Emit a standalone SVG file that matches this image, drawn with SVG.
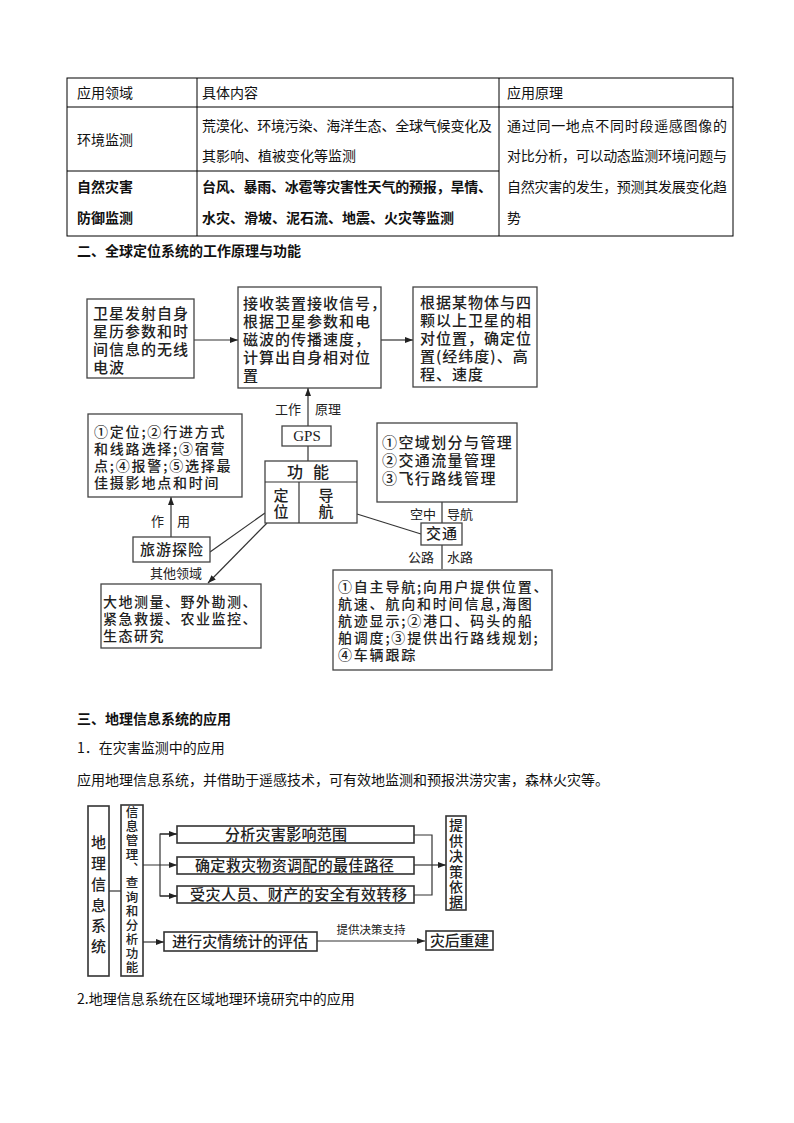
<svg xmlns="http://www.w3.org/2000/svg" width="794" height="1123" viewBox="0 0 794 1123">
<style>
.t{font-family:"Noto Sans CJK SC","Liberation Sans",sans-serif;font-size:14px;fill:#111}
.b{font-weight:bold}
.tbl{fill:none;stroke:#000;stroke-width:1}
.box{fill:#fff;stroke:#444;stroke-width:1.3}
.gbox{fill:#fff;stroke:#333;stroke-width:1.6}
.d{font-family:"Noto Sans CJK SC","Liberation Sans",sans-serif;font-size:15px;letter-spacing:1px;fill:#222;font-weight:500}
.dn{font-family:"Noto Sans CJK SC","Liberation Sans",sans-serif;font-size:14px;letter-spacing:1.8px;fill:#222;font-weight:500}
.s{font-family:"Noto Sans CJK SC","Liberation Sans",sans-serif;font-size:13px;fill:#222}
.g{font-family:"Noto Sans CJK SC","Liberation Sans",sans-serif;font-size:15px;fill:#222;font-weight:500}
.v{writing-mode:vertical-rl}
.ln{fill:none;stroke:#333;stroke-width:1.2}
</style>
<defs>
<marker id="ar" viewBox="0 0 8 6" refX="8" refY="3" markerWidth="8" markerHeight="6" markerUnits="userSpaceOnUse" orient="auto"><path d="M0,0L8,3L0,6z" fill="#222"/></marker>
</defs>
<rect width="794" height="1123" fill="#fff"/>

<g id="table">
<rect class="tbl" x="67" y="78" width="666" height="158"/>
<line class="tbl" x1="67" y1="107" x2="733" y2="107"/>
<line class="tbl" x1="67" y1="171" x2="499" y2="171"/>
<line class="tbl" x1="197" y1="78" x2="197" y2="236"/>
<line class="tbl" x1="499" y1="78" x2="499" y2="236"/>
<text class="t" x="77" y="98">应用领域</text>
<text class="t" x="202" y="98">具体内容</text>
<text class="t" x="507" y="98">应用原理</text>
<text class="t" x="77" y="145">环境监测</text>
<text class="t" x="202" y="131" textLength="290" lengthAdjust="spacing">荒漠化、环境污染、海洋生态、全球气候变化及</text>
<text class="t" x="202" y="161">其影响、植被变化等监测</text>
<text class="t b" x="77" y="192">自然灾害</text>
<text class="t b" x="77" y="223">防御监测</text>
<text class="t b" x="202" y="192" textLength="290" lengthAdjust="spacing">台风、暴雨、冰雹等灾害性天气的预报，旱情、</text>
<text class="t b" x="202" y="223">水灾、滑坡、泥石流、地震、火灾等监测</text>
<text class="t" x="507" y="131" textLength="220" lengthAdjust="spacing">通过同一地点不同时段遥感图像的</text>
<text class="t" x="507" y="161" textLength="220" lengthAdjust="spacing">对比分析，可以动态监测环境问题与</text>
<text class="t" x="507" y="192" textLength="220" lengthAdjust="spacing">自然灾害的发生，预测其发展变化趋</text>
<text class="t" x="507" y="223">势</text>
</g>

<text class="t b" x="77" y="256">二、全球定位系统的工作原理与功能</text>

<g id="gps-connectors">
<line class="ln" x1="194" y1="340" x2="238" y2="340" marker-end="url(#ar)"/>
<line class="ln" x1="381" y1="340" x2="413" y2="340" marker-end="url(#ar)"/>
<line class="ln" x1="308" y1="426" x2="308" y2="388" marker-end="url(#ar)"/>
<line class="ln" x1="308" y1="446" x2="308" y2="461"/>
<line class="ln" x1="171" y1="537" x2="171" y2="497" marker-end="url(#ar)"/>
<line class="ln" x1="265" y1="513" x2="210" y2="552"/>
<line class="ln" x1="267" y1="523" x2="208" y2="583" marker-end="url(#ar)"/>
<line class="ln" x1="357" y1="514" x2="421" y2="534"/>
<line class="ln" x1="442" y1="502" x2="442" y2="523"/>
<line class="ln" x1="442" y1="545" x2="442" y2="569"/>
<text class="s" x="275" y="414">工作</text>
<text class="s" x="315" y="414">原理</text>
<text class="s" x="151" y="526">作</text>
<text class="s" x="177" y="526">用</text>
<text class="s" x="150" y="578">其他领域</text>
<text class="s" x="410" y="519">空中</text>
<text class="s" x="447" y="519">导航</text>
<text class="s" x="408" y="562">公路</text>
<text class="s" x="447" y="562">水路</text>
</g>

<g id="nodeA">
<rect class="box" x="87" y="299" width="107" height="79"/>
<text class="d" x="93" y="319">卫星发射自身</text>
<text class="d" x="93" y="337">星历参数和时</text>
<text class="d" x="93" y="355">间信息的无线</text>
<text class="d" x="93" y="373">电波</text>
</g>
<g id="nodeB">
<rect class="box" x="238" y="287" width="143" height="101"/>
<text class="d" x="243" y="309">接收装置接收信号，</text>
<text class="d" x="243" y="327">根据卫星参数和电</text>
<text class="d" x="243" y="345">磁波的传播速度，</text>
<text class="d" x="243" y="363">计算出自身相对位</text>
<text class="d" x="243" y="381">置</text>
</g>
<g id="nodeC">
<rect class="box" x="413" y="287" width="124" height="100"/>
<text class="d" x="420" y="308">根据某物体与四</text>
<text class="d" x="420" y="326">颗以上卫星的相</text>
<text class="d" x="420" y="344">对位置，确定位</text>
<text class="d" x="420" y="362">置(经纬度)、高</text>
<text class="d" x="420" y="380">程、速度</text>
</g>
<g id="nodeGPS">
<rect class="box" x="282" y="426" width="49" height="20"/>
<text x="307" y="441" text-anchor="middle" font-family="Liberation Serif,serif" font-size="15" fill="#222">GPS</text>
</g>
<g id="nodeFunc">
<rect class="box" x="265" y="461" width="92" height="62"/>
<line class="ln" x1="265" y1="482" x2="357" y2="482"/>
<line class="ln" x1="299" y1="482" x2="299" y2="523"/>
<text class="g" x="287" y="478" style="font-size:16px;letter-spacing:10px">功能</text>
<text class="g v" x="281" y="488" style="letter-spacing:1px">定位</text>
<text class="g v" x="326" y="488" style="letter-spacing:1px">导航</text>
</g>
<g id="nodeD">
<rect class="box" x="88" y="414" width="154" height="83"/>
<text class="dn" x="94" y="437">①定位;②行进方式</text>
<text class="dn" x="94" y="454">和线路选择;③宿营</text>
<text class="dn" x="94" y="471">点;④报警;⑤选择最</text>
<text class="dn" x="94" y="488">佳摄影地点和时间</text>
</g>
<g id="nodeTravel">
<rect class="box" x="133" y="537" width="77" height="25"/>
<text class="d" x="172" y="555" text-anchor="middle">旅游探险</text>
</g>
<g id="nodeE">
<rect class="box" x="101" y="584" width="160" height="64"/>
<text class="dn" x="103" y="607" style="letter-spacing:1.5px">大地测量、野外勘测、</text>
<text class="dn" x="103" y="624" style="letter-spacing:1.5px">紧急救援、农业监控、</text>
<text class="dn" x="103" y="641" style="letter-spacing:1.5px">生态研究</text>
</g>
<g id="nodeF">
<rect class="box" x="377" y="423" width="140" height="79"/>
<text class="d" x="382" y="448" style="letter-spacing:1.4px">①空域划分与管理</text>
<text class="d" x="382" y="466" style="letter-spacing:1.4px">②交通流量管理</text>
<text class="d" x="382" y="484" style="letter-spacing:1.4px">③飞行路线管理</text>
</g>
<g id="nodeTraffic">
<rect class="box" x="421" y="523" width="41" height="22"/>
<text class="d" x="442" y="539" text-anchor="middle">交通</text>
</g>
<g id="nodeG">
<rect class="box" x="333" y="570" width="219" height="100"/>
<text class="dn" x="338" y="592">①自主导航;向用户提供位置、</text>
<text class="dn" x="338" y="609">航速、航向和时间信息,海图</text>
<text class="dn" x="338" y="626">航迹显示;②港口、码头的船</text>
<text class="dn" x="338" y="643">舶调度;③提供出行路线规划;</text>
<text class="dn" x="338" y="660">④车辆跟踪</text>
</g>

<text class="t b" x="77" y="724">三、地理信息系统的应用</text>
<text class="t" x="77" y="753">1．在灾害监测中的应用</text>
<text class="t" x="77" y="785">应用地理信息系统，并借助于遥感技术，可有效地监测和预报洪涝灾害，森林火灾等。</text>

<g id="gis-connectors">
<line class="ln" x1="109" y1="891" x2="121" y2="891"/>
<polyline class="ln" points="177,834 160,834 160,896 177,896"/>
<line class="ln" x1="160" y1="834" x2="177" y2="834" marker-end="url(#ar)"/>
<line class="ln" x1="160" y1="896" x2="177" y2="896" marker-end="url(#ar)"/>
<line class="ln" x1="143" y1="865" x2="177" y2="865" marker-end="url(#ar)"/>
<polyline class="ln" points="414,835 432,835 432,895 414,895"/>
<line class="ln" x1="414" y1="865" x2="446" y2="865" marker-end="url(#ar)"/>
<line class="ln" x1="143" y1="942" x2="164" y2="942" marker-end="url(#ar)"/>
<line class="ln" x1="317" y1="941" x2="425" y2="941" marker-end="url(#ar)"/>
<text class="s" x="371" y="934" text-anchor="middle" style="font-size:11.5px">提供决策支持</text>
</g>

<g id="gisSystem">
<rect class="gbox" x="88" y="806" width="21" height="170"/>
<text class="g v" x="98.5" y="835" style="letter-spacing:5.8px">地理信息系统</text>
</g>
<g id="gisFunc">
<rect class="gbox" x="121" y="805" width="22" height="171"/>
<text class="g v" x="132" y="806" style="font-size:12.5px;letter-spacing:1.6px">信息管理、查询和分析功能</text>
</g>
<g id="gisA">
<rect class="gbox" x="177" y="826" width="237" height="17"/>
<text class="g" x="225" y="840" textLength="122" lengthAdjust="spacing">分析灾害影响范围</text>
</g>
<g id="gisB">
<rect class="gbox" x="177" y="857" width="237" height="17"/>
<text class="g" x="195" y="871" textLength="199" lengthAdjust="spacing">确定救灾物资调配的最佳路径</text>
</g>
<g id="gisC">
<rect class="gbox" x="177" y="886" width="237" height="17"/>
<text class="g" x="190" y="900" textLength="217" lengthAdjust="spacing">受灾人员、财产的安全有效转移</text>
</g>
<g id="gisDecision">
<rect class="gbox" x="446" y="816" width="20" height="94"/>
<text class="g v" x="456" y="818" style="font-size:14px;letter-spacing:1.4px">提供决策依据</text>
</g>
<g id="gisStat">
<rect class="gbox" x="164" y="932" width="153" height="19"/>
<text class="g" x="172" y="947" textLength="136" lengthAdjust="spacing">进行灾情统计的评估</text>
</g>
<g id="gisRebuild">
<rect class="gbox" x="426" y="931" width="67" height="19"/>
<text class="g" x="430" y="946" textLength="59" lengthAdjust="spacing">灾后重建</text>
</g>

<text class="t" x="77" y="1004">2.地理信息系统在区域地理环境研究中的应用</text>
</svg>
